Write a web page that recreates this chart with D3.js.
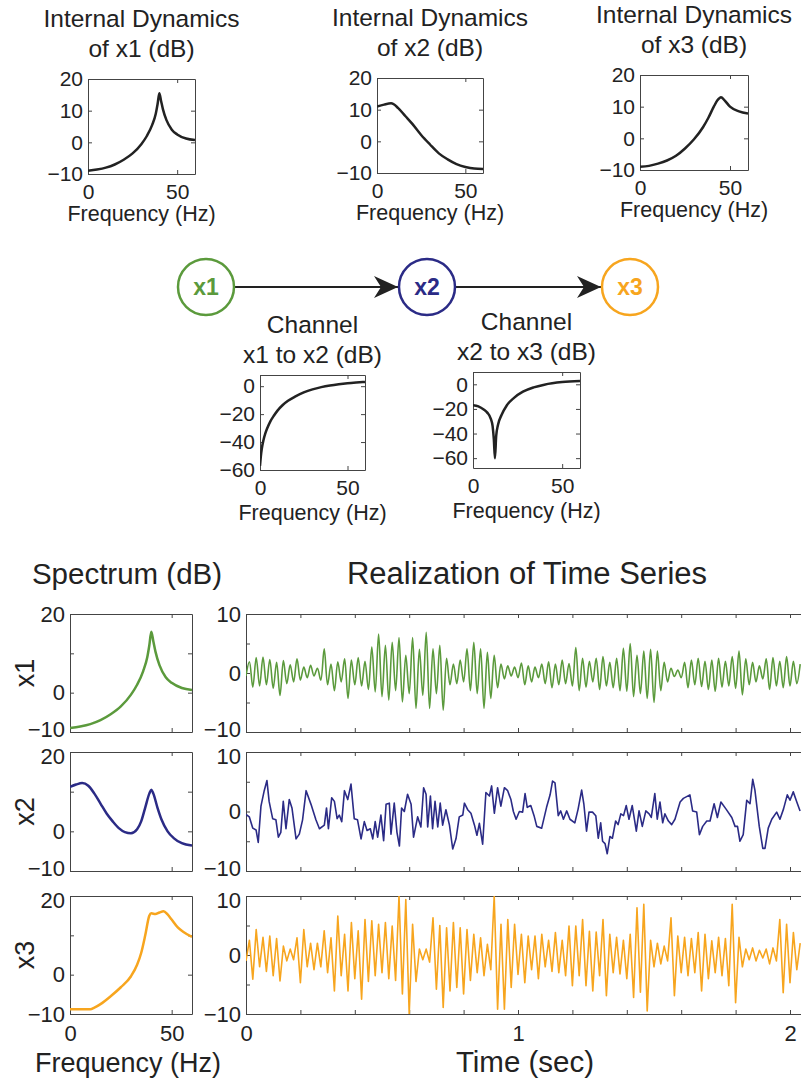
<!DOCTYPE html>
<html>
<head>
<meta charset="utf-8">
<script src="https://cdn.jsdelivr.net/npm/d3@7"></script>
<style>
  body { margin: 0; background: #fff; }
  svg text { font-family: "Liberation Sans", Arial, Helvetica, sans-serif; fill: #222; }
  .axis path, .axis line { stroke: #444; stroke-width: 1; }
</style>
</head>
<body>
<svg id="fig" width="801" height="1085"></svg>
<script>
// Internal dynamics / spectra (Hz, dB)
var intX1Freq = [0, 5, 10, 15, 20, 25, 30, 33, 36, 38, 39, 40, 41, 42, 44, 47, 50, 55, 60];
var intX1Db = [-9, -8.6, -8, -7, -5.5, -3.5, -0.5, 2, 5.5, 9, 12, 15.5, 13, 10.5, 7, 4, 2.5, 1.2, 0.7];

var intX2Freq = [0, 4, 8, 12, 16, 20, 25, 30, 35, 40, 45, 50, 55, 60];
var intX2Db = [11, 11.6, 12, 10.5, 8, 5.5, 2, -1, -3.8, -5.7, -7.2, -8.1, -8.6, -8.7];

var intX3Freq = [0, 5, 10, 15, 20, 25, 30, 35, 38, 41, 43, 45, 47, 50, 55, 60];
var intX3Db = [-9, -8.7, -8, -7, -5.5, -3.2, -0.3, 3.5, 6.5, 10, 12, 13, 12, 10, 8.5, 7.8];

var chan12Freq = [0, 0.5, 1, 2, 3, 4, 6, 8, 10, 13, 16, 20, 25, 30, 35, 40, 45, 50, 55, 60];
var chan12Db = [-57, -50, -45, -38.5, -34, -30.5, -25, -21, -17.5, -13.5, -10.5, -7.5, -4.5, -2.3, -0.7, 0.5, 1.4, 2.1, 2.6, 3];

var chan23Freq = [0, 3, 6, 8, 10, 11, 11.7, 12.3, 13, 14, 16, 19, 23, 28, 34, 40, 50, 60];
var chan23Db = [-17, -18, -20.5, -23, -28, -34, -45, -60, -42, -33, -25, -17, -11, -6, -2.5, -0.3, 1.8, 2.7];

var specX2Freq = [0, 3, 6, 9, 12, 15, 18, 21, 24, 27, 30, 33, 35, 37, 39, 40, 41, 43, 45, 48, 51, 55, 60];
var specX2Db = [11.2, 11.8, 12.2, 11.5, 9.5, 7, 4.5, 2.5, 0.8, -0.2, -0.5, 0.5, 2.5, 6, 9.5, 10.5, 9.5, 6, 3, 0, -1.7, -3, -3.6];

var specX3Freq = [0, 5, 10, 12, 15, 20, 25, 30, 33, 35, 37, 39, 40, 42, 44, 46, 48, 50, 53, 56, 60];
var specX3Db = [-8.8, -8.8, -8.8, -8.4, -7.5, -5.5, -3.2, -0.4, 2.5, 5.5, 10, 15, 15.6, 15.4, 15.8, 16.1, 15.3, 14, 12, 10.8, 9.6];

// Time series: x1 and x3 are read as successive peaks/troughs every 12.5 ms
var peakStep = 0.0125;
var x1Values = [-0.5,
  1.9, -2.4, 2.6, -2.2, 2.7, -2.0, 2.3, -2.6, 1.8, -3.8, 2.1, -1.8, 1.4, -1.5, 2.4, -1.2,
  1.0, -0.8, 1.3, -0.5, 0.8, -1.2, 4.1, -2.0, 1.5, -3.0, 1.9, -1.5, 2.4, -4.3, 2.2, -2.0,
  2.6, -2.2, 2.0, -2.8, 4.4, -3.2, 6.6, -4.0, 4.7, -4.6, 5.2, -3.0, 6.0, -4.9, 3.0, -3.5,
  6.0, -6.0, 4.0, -3.8, 6.9, -6.0, 4.1, -3.5, 4.7, -6.3, 2.5, -2.0, 1.5, -1.8, 2.2, -1.5,
  4.1, -3.0, 5.2, -3.5, 4.1, -6.0, 3.5, -4.3, 3.0, -2.5, 1.5, -1.0, 1.2, -0.5, 1.0, -0.8,
  1.7, -2.0, 1.2, -1.5, 1.0, -0.8, 1.5, -1.8, 1.9, -2.5, 1.5, -2.0, 2.2, -1.8, 1.6, -2.2,
  4.3, -3.0, 2.5, -2.4, 2.0, -1.5, 2.5, -2.8, 2.8, -2.2, 1.8, -2.5, 2.5, -3.0, 4.2, -3.1,
  5.0, -4.0, 3.0, -3.5, 3.7, -4.3, 4.0, -5.0, 3.7, -3.0, 1.8, -1.5, 0.8, -0.6, 0.5, -0.8,
  1.8, -2.5, 2.2, -2.0, 2.5, -2.3, 2.0, -2.8, 2.2, -3.1, 2.5, -2.4, 2.0, -2.2, 2.8, -2.6,
  3.7, -3.7, 2.4, -2.0, 1.8, -1.5, 1.2, -1.0, 2.4, -2.8, 2.6, -2.2, 2.0, -2.5, 2.8, -2.2,
  2.0, -1.8, 1.5];

var x3Values = [-1.0,
  2.5, -4.1, 4.3, -2.0, 3.0, -2.8, 3.2, -3.5, 2.8, -4.4, 1.5, -1.0, 1.0, -0.8, 2.9, -4.7,
  4.3, -2.0, 2.0, -2.5, 2.0, -2.0, 4.1, -3.0, 2.9, -6.1, 6.6, -3.5, 3.5, -6.1, 5.5, -4.0,
  4.1, -7.5, 6.0, -4.5, 5.8, -3.5, 5.2, -3.0, 5.5, -4.0, 4.9, -4.3, 10, -6.6, 9.4, -10,
  5.2, -4.5, 1.0, -0.8, 1.0, -1.2, 6.3, -5.8, 5.0, -8.9, 4.6, -6.1, 5.5, -5.5, 4.6, -6.6,
  4.3, -4.3, 3.5, -3.0, 2.9, -3.5, 1.8, -2.5, 10, -9.2, 5.2, -9.2, 6.0, -5.5, 5.2, -3.3,
  3.5, -4.7, 3.2, -2.5, 3.2, -4.0, 3.5, -2.0, 2.5, -2.8, 3.8, -3.0, 2.5, -3.5, 4.9, -5.2,
  4.9, -3.5, 6.0, -5.2, 4.0, -6.1, 3.9, -3.5, 6.0, -6.9, 3.5, -3.0, 3.0, -3.2, 2.5, -4.0,
  3.5, -7.2, 8.0, -6.3, 8.6, -9.5, 2.5, -2.0, 2.0, -1.5, 1.5, -1.0, 6.3, -6.9, 3.2, -3.0,
  3.0, -3.5, 2.8, -3.0, 3.8, -6.1, 3.5, -4.0, 2.4, -3.0, 3.0, -3.5, 2.8, -5.2, 8.6, -8.1,
  3.0, -2.0, 1.0, -0.8, 1.2, -1.0, 0.8, -0.5, 1.0, -1.5, 1.2, -1.0, 6.0, -6.4, 5.2, -4.7,
  3.8, -2.5, 2.0];

var x2Times = [0, 0.012, 0.025, 0.037, 0.045, 0.055, 0.067, 0.077, 0.085, 0.098,
  0.11, 0.119, 0.128, 0.137, 0.147, 0.159, 0.169, 0.184, 0.196, 0.208,
  0.221, 0.239, 0.257, 0.27, 0.288, 0.296, 0.303, 0.315, 0.325, 0.335,
  0.343, 0.352, 0.362, 0.374, 0.386, 0.398, 0.41, 0.423, 0.435, 0.445,
  0.457, 0.466, 0.475, 0.484, 0.496, 0.506, 0.515, 0.527, 0.533, 0.545,
  0.555, 0.564, 0.572, 0.582, 0.594, 0.607, 0.616, 0.631, 0.643, 0.653,
  0.662, 0.668, 0.678, 0.686, 0.695, 0.705, 0.714, 0.723, 0.735, 0.748,
  0.76, 0.772, 0.784, 0.797, 0.803, 0.815, 0.827, 0.84, 0.849, 0.858,
  0.87, 0.882, 0.895, 0.903, 0.913, 0.925, 0.937, 0.95, 0.962, 0.974,
  0.983, 0.993, 1.005, 1.017, 1.026, 1.034, 1.047, 1.059, 1.069, 1.087,
  1.105, 1.118, 1.127, 1.136, 1.148, 1.157, 1.167, 1.179, 1.191, 1.209,
  1.221, 1.234, 1.242, 1.252, 1.261, 1.274, 1.286, 1.295, 1.304, 1.311,
  1.32, 1.328, 1.338, 1.347, 1.359, 1.368, 1.378, 1.388, 1.398, 1.408,
  1.42, 1.435, 1.445, 1.457, 1.47, 1.482, 1.49, 1.503, 1.512, 1.522,
  1.532, 1.54, 1.553, 1.565, 1.577, 1.596, 1.608, 1.632, 1.642, 1.657,
  1.667, 1.679, 1.694, 1.706, 1.721, 1.733, 1.746, 1.765, 1.786, 1.798,
  1.807, 1.816, 1.828, 1.841, 1.853, 1.863, 1.871, 1.887, 1.9, 1.908,
  1.92, 1.933, 1.951, 1.963, 1.976, 1.99, 2.0, 2.012, 2.025, 2.037];
var x2Values = [-0.5, -0.9, -2.8, -3.1, -5.2, 0.9, 3.5, 5.2, 1.7, -1.2,
  -1.4, -4.3, -3.5, 1.7, -2.9, 2.0, 0.6, -4.6, -3.8, -1.4,
  3.5, 1.2, -1.4, -2.9, -2.3, 0.6, -2.9, 2.3, 1.7, -1.2,
  -0.6, -1.7, 3.5, 2.0, 4.6, -1.2, -1.4, -4.6, -1.7, -3.2,
  -2.9, -4.6, -1.7, -4.3, -0.6, -4.9, 1.2, 1.4, -3.8, 1.4,
  -3.5, -5.8, 0.6, 0.0, 2.9, 1.2, -4.3, -0.9, -2.6, 4.0,
  2.9, -2.6, 2.6, -2.9, 1.7, -2.6, 1.4, -2.3, 0.3, -2.3,
  -6.3, -4.6, -0.9, -0.6, 1.4, 0.3, -0.3, -2.3, -4.0, -2.0,
  -5.5, 3.2, 2.6, 4.3, -0.3, 4.0, 0.9, 4.0, 3.5, 2.0,
  0.0, -1.3, 0.0, -0.1, 3.0, 0.7, 1.0, -0.7, -2.5, -2.8,
  0.7, 2.8, 5.1, 4.8, -0.7, 0.1, -1.3, 0.1, -1.3, -1.9,
  0.4, 3.6, 1.3, -3.3, -0.1, -0.1, -0.7, -4.5, -1.9, -5.0,
  -5.4, -7.1, -4.2, -4.5, -1.6, -2.2, -0.4, -0.7, 1.0, -1.3,
  1.0, -3.3, 0.1, -2.5, 0.1, -0.4, -1.0, 3.0, -1.3, 1.6,
  -1.9, -0.4, -1.6, -2.2, -1.3, 1.6, 2.2, 2.8, 0.1, -0.1,
  -3.9, -2.5, -1.6, -1.6, 1.3, -1.0, 1.6, 0.4, -1.0, -2.5,
  -2.5, -5.0, -3.9, 1.9, 1.3, 5.4, 3.6, -2.5, -6.2, -6.2,
  -2.8, -1.3, -0.1, -1.3, 0.4, 2.8, 1.9, 3.3, 1.6, 0.1];

var nodeNames = ['x1', 'x2', 'x3'];
var nodeColors = ['#5b9a3c', '#2b2b86', '#f7a51e'];

var svg = d3.select('#fig');
var fmt = d3.format('d');

function drawPanel(p) {
  var x = d3.scaleLinear().domain(p.xDomain).range([p.left, p.right]);
  var y = d3.scaleLinear().domain(p.yDomain).range([p.bottom, p.top]);
  var g = svg.append('g');
  var xLab = p.xLabels || [];
  var yLab = p.yLabels || [];
  var tick = p.tick || 4;

  var clipId = 'clip' + Math.round(p.left) + '_' + Math.round(p.top);
  g.append('clipPath').attr('id', clipId)
    .append('rect')
    .attr('x', p.left).attr('y', p.top)
    .attr('width', p.right - p.left).attr('height', p.bottom - p.top);

  g.append('g').attr('class', 'axis')
    .attr('transform', 'translate(0,' + p.bottom + ')')
    .call(d3.axisBottom(x).tickValues(p.xTicks).tickSizeInner(-tick).tickSizeOuter(0)
      .tickPadding(p.xPad).tickFormat(d => xLab.indexOf(d) >= 0 ? fmt(d) : ''))
    .attr('font-size', p.fontSize).attr('font-family', null);
  g.append('g').attr('class', 'axis')
    .attr('transform', 'translate(0,' + p.top + ')')
    .call(d3.axisTop(x).tickValues(p.xTicks).tickSizeInner(-tick).tickSizeOuter(0).tickFormat(''));
  var yAxis = g.append('g').attr('class', 'axis')
    .attr('transform', 'translate(' + p.left + ',0)')
    .call(d3.axisLeft(y).tickValues(p.yTicks).tickSizeInner(-tick).tickSizeOuter(0)
      .tickPadding(p.yPad).tickFormat(d => yLab.indexOf(d) >= 0 ? fmt(d) : ''))
    .attr('font-size', p.fontSize).attr('font-family', null);
  // stacked panels: keep the end labels of neighbouring panels apart
  if (p.nudgeLow) {
    yAxis.selectAll('.tick text').filter(d => d === p.yDomain[0]).attr('y', p.nudgeLow);
  }
  if (p.nudgeHigh) {
    yAxis.selectAll('.tick text').filter(d => d === p.yDomain[1]).attr('y', p.nudgeHigh);
  }
  if (p.rightAxis !== false) {
    g.append('g').attr('class', 'axis')
      .attr('transform', 'translate(' + p.right + ',0)')
      .call(d3.axisRight(y).tickValues(p.yTicks).tickSizeInner(-tick).tickSizeOuter(0).tickFormat(''));
  }

  var line = d3.line()
    .x((d, i) => x(p.xs[i]))
    .y(d => y(d))
    .curve(p.curve || d3.curveLinear);
  g.append('path')
    .datum(p.ys)
    .attr('clip-path', 'url(#' + clipId + ')')
    .attr('fill', 'none')
    .attr('stroke', p.color)
    .attr('stroke-width', p.strokeWidth || 2.5)
    .attr('stroke-linejoin', 'round')
    .attr('d', line);
  return g;
}

function text(x, y, str, size, opts) {
  opts = opts || {};
  var t = svg.append('text')
    .attr('x', x).attr('y', y)
    .attr('text-anchor', opts.anchor || 'middle')
    .attr('font-size', size)
    .text(str);
  if (opts.rotate) t.attr('transform', 'rotate(-90,' + x + ',' + y + ')');
  if (opts.color) t.style('fill', opts.color);
  if (opts.weight) t.attr('font-weight', opts.weight);
  return t;
}

// ---- top row: internal dynamics
var topPanels = [
  { left: 88, right: 195, top: 79, bottom: 174, xs: intX1Freq, ys: intX1Db, name: 'x1' },
  { left: 377, right: 483, top: 78, bottom: 173, xs: intX2Freq, ys: intX2Db, name: 'x2' },
  { left: 640, right: 748, top: 75, bottom: 170, xs: intX3Freq, ys: intX3Db, name: 'x3' }
];
topPanels.forEach(function (p) {
  drawPanel(Object.assign({
    xDomain: [0, 60], yDomain: [-10, 20],
    xTicks: [0, 50], xLabels: [0, 50],
    yTicks: [-10, 0, 10, 20], yLabels: [-10, 0, 10, 20],
    fontSize: 21, xPad: 10, yPad: 5, color: '#222', curve: d3.curveMonotoneX
  }, p));
  var cx = (p.left + p.right) / 2;
  text(cx, p.top - 52, 'Internal Dynamics', 24.5);
  text(cx, p.top - 22, 'of ' + p.name + ' (dB)', 24.5);
  text(cx, p.bottom + 47, 'Frequency (Hz)', 21.5);
});

// ---- network diagram
var nodeX = [206, 427, 630];
var nodeY = 287;
var nodeR = 28;
svg.append('defs').append('marker')
  .attr('id', 'arrow')
  .attr('viewBox', '0 0 24 22')
  .attr('refX', 24).attr('refY', 11)
  .attr('markerWidth', 24).attr('markerHeight', 22)
  .attr('markerUnits', 'userSpaceOnUse')
  .attr('orient', 'auto')
  .append('path')
  .attr('d', 'M0,0 L24,11 L0,22 L7,11 Z')
  .attr('fill', '#222');
[0, 1].forEach(function (i) {
  svg.append('line')
    .attr('x1', nodeX[i] + nodeR).attr('y1', nodeY)
    .attr('x2', nodeX[i + 1] - nodeR - 1).attr('y2', nodeY)
    .attr('stroke', '#222').attr('stroke-width', 2)
    .attr('marker-end', 'url(#arrow)');
});
nodeNames.forEach(function (n, i) {
  svg.append('circle')
    .attr('cx', nodeX[i]).attr('cy', nodeY).attr('r', nodeR)
    .attr('fill', '#fff').attr('stroke', nodeColors[i]).attr('stroke-width', 2.5);
  text(nodeX[i], nodeY + 8, n, 23, { color: nodeColors[i], weight: 'bold' });
});

// ---- channels
var chanPanels = [
  { left: 260, right: 365, top: 375, bottom: 470, yDomain: [-60, 8], xs: chan12Freq, ys: chan12Db, from: 'x1', to: 'x2' },
  { left: 473, right: 580, top: 372, bottom: 468, yDomain: [-68, 10], xs: chan23Freq, ys: chan23Db, from: 'x2', to: 'x3' }
];
chanPanels.forEach(function (p) {
  drawPanel(Object.assign({
    xDomain: [0, 60],
    xTicks: [0, 50], xLabels: [0, 50],
    yTicks: [-60, -40, -20, 0], yLabels: [-60, -40, -20, 0],
    fontSize: 21, xPad: 10, yPad: 5, color: '#222', curve: d3.curveMonotoneX
  }, p));
  var cx = (p.left + p.right) / 2;
  text(cx, p.top - 42, 'Channel', 24.5);
  text(cx, p.top - 12, p.from + ' to ' + p.to + ' (dB)', 24.5);
  text(cx, p.bottom + 50, 'Frequency (Hz)', 21.5);
});

// ---- bottom: spectra and time series
var rows = [
  { top: 614, bottom: 732, fx: intX1Freq, fy: intX1Db, t: null, v: x1Values, curve: d3.curveCatmullRom },
  { top: 752, bottom: 871, fx: specX2Freq, fy: specX2Db, t: x2Times, v: x2Values, curve: d3.curveLinear },
  { top: 896, bottom: 1014, fx: specX3Freq, fy: specX3Db, t: null, v: x3Values, curve: d3.curveLinear }
];
var timeTicks = [0, 0.2, 0.4, 0.6, 0.8, 1, 1.2, 1.4, 1.6, 1.8, 2];
rows.forEach(function (r, i) {
  var first = i === 0;
  var last = i === rows.length - 1;
  var nudgeLow = last ? 0 : -3;
  var nudgeHigh = first ? 0 : 4;
  drawPanel({
    left: 70, right: 192, top: r.top, bottom: r.bottom,
    xDomain: [0, 60], yDomain: [-10, 20],
    xTicks: [0, 50], xLabels: last ? [0, 50] : [],
    yTicks: [-10, 0, 10, 20], yLabels: [-10, 0, 20],
    fontSize: 22, xPad: 11, yPad: 5, nudgeLow: nudgeLow, nudgeHigh: nudgeHigh,
    xs: r.fx, ys: r.fy, color: nodeColors[i], strokeWidth: 2.5, curve: d3.curveMonotoneX
  });
  var times = r.t || r.v.map((d, k) => k * peakStep);
  drawPanel({
    left: 246, right: 246 + 272 * 2.06, top: r.top, bottom: r.bottom,
    xDomain: [0, 2.06], yDomain: [-10, 10],
    xTicks: timeTicks, xLabels: last ? [0, 1, 2] : [],
    yTicks: [-10, -5, 0, 5, 10], yLabels: [-10, 0, 10],
    fontSize: 22, xPad: 11, yPad: 5, rightAxis: false, nudgeLow: nudgeLow, nudgeHigh: nudgeHigh,
    xs: times, ys: r.v, color: nodeColors[i], strokeWidth: 1.6, curve: r.curve
  });
  text(34, (r.top + r.bottom) / 2, nodeNames[i], 27, { rotate: true });
});

text(127, 584, 'Spectrum (dB)', 29.5);
text(527, 584, 'Realization of Time Series', 31);
text(128, 1072, 'Frequency (Hz)', 27);
text(525, 1072, 'Time (sec)', 29.5);
</script>
</body>
</html>
